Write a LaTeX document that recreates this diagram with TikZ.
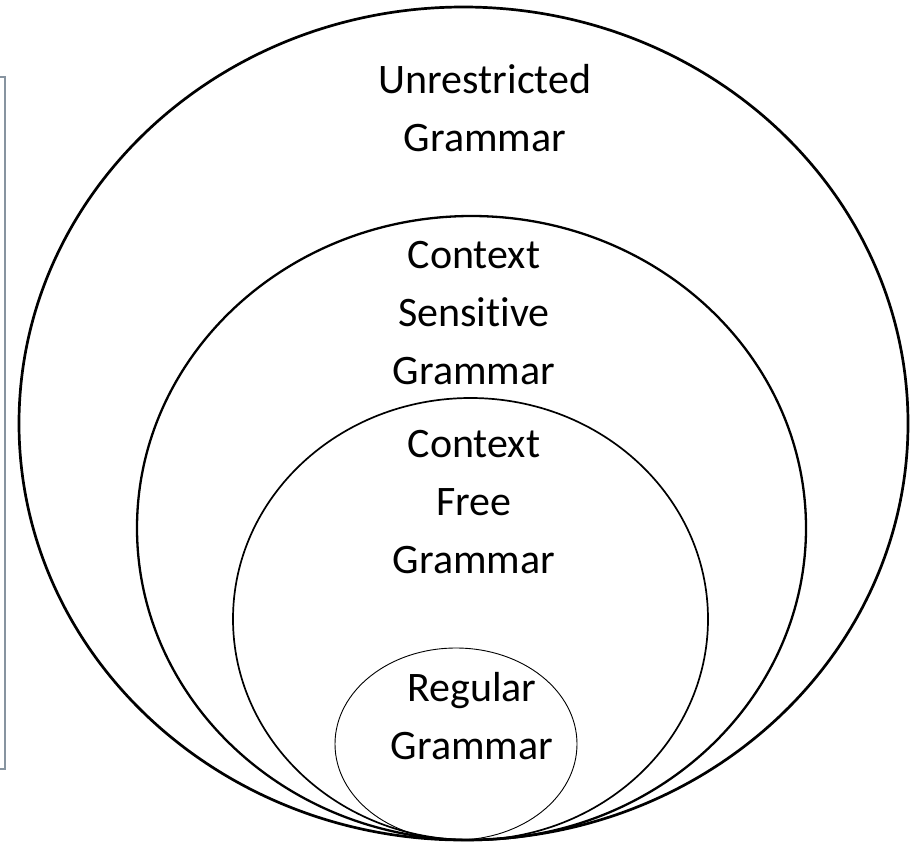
\documentclass[tikz,border=0pt]{standalone}
\usepackage{fontspec}
\setmainfont[Ligatures={NoCommon}]{Carlito}
\definecolor{boxgray}{RGB}{135,148,160}
\begin{document}
\begin{tikzpicture}[x=1pt,y=-1pt,
  ring/.style={draw=black},
  lbl/.style={align=center,font=\fontsize{42}{58}\selectfont,inner sep=0pt}]
\useasboundingbox (0,0) rectangle (910,844);
\clip (0,0) rectangle (910,844);
\fill[white] (0,0) rectangle (910,844);
% partial side panel
\draw[boxgray,line width=1.6pt] (-20,77) rectangle (5,769);
% nested grammars
\draw[ring,line width=2.7pt] (463.5,423.5) ellipse [x radius=444.5,y radius=416.5];
\draw[ring,line width=2.3pt] (471.5,528) ellipse [x radius=334.5,y radius=312];
\draw[ring,line width=1.7pt] (470.5,619) ellipse [x radius=237.5,y radius=221];
\draw[ring,line width=0.9pt] (456,744) ellipse [x radius=121,y radius=96];
% labels
\node[lbl] (unr) at (485,108) {Unrestricted\\Grammar};
\node[lbl] (cs) at (474,313) {Context\\Sensitive\\Grammar};
\node[lbl] (cf) at (474,502) {Context\\Free\\Grammar};
\node[lbl] (reg) at (472,716) {Regular\\Grammar};
\end{tikzpicture}
\end{document}
